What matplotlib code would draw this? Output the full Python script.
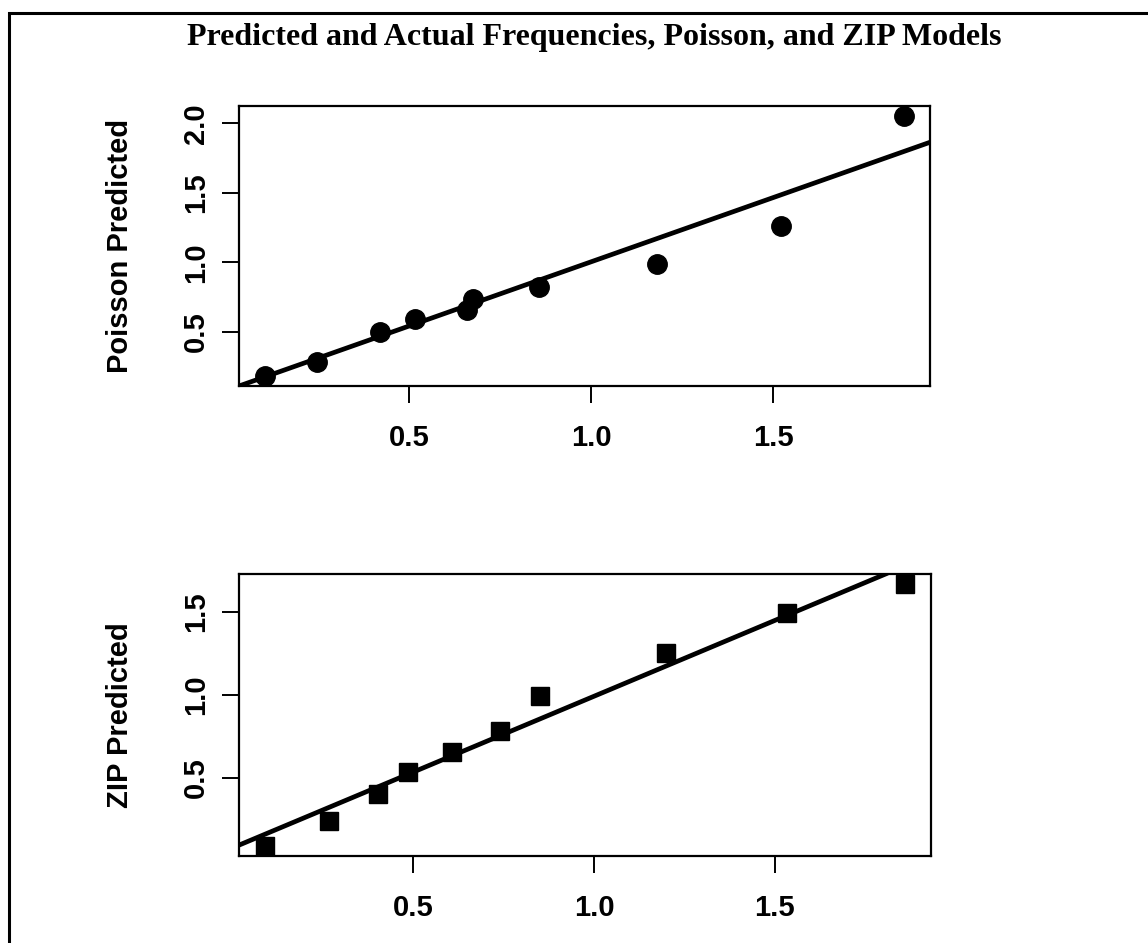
import matplotlib
matplotlib.use("Agg")
import matplotlib.pyplot as plt
from matplotlib.patches import Rectangle
import numpy as np

# actual vs predicted frequencies
pois_actual = [0.102, 0.247, 0.420, 0.514, 0.659, 0.676, 0.857, 1.181, 1.522, 1.860]
pois_pred = [0.184, 0.285, 0.500, 0.593, 0.658, 0.737, 0.823, 0.986, 1.258, 2.050]
zip_actual = [0.088, 0.265, 0.403, 0.486, 0.608, 0.741, 0.851, 1.200, 1.533, 1.862]
zip_pred = [0.090, 0.239, 0.403, 0.536, 0.652, 0.779, 0.991, 1.248, 1.490, 1.664]

# fitted lines (intercept, slope)
pois_fit = (0.080, 0.924)
zip_fit = (0.077, 0.913)

x_ticks = [0.5, 1.0, 1.5]
pois_yticks = [0.5, 1.0, 1.5, 2.0]
zip_yticks = [0.5, 1.0, 1.5]

W, H = 1148, 943
fig = plt.figure(figsize=(W / 100, H / 100), dpi=100)
fig.patch.set_facecolor("white")

# border round the whole figure
fig.add_artist(Rectangle((9 / W, -0.1), 2, 1.1 - 12.5 / H, transform=fig.transFigure,
                         fill=False, lw=2.2, edgecolor="black"))

fig.text(594 / W, 1 - 38 / H, "Predicted and Actual Frequencies, Poisson, and ZIP Models",
         ha="center", va="center", fontsize=23, fontweight="bold",
         family="Liberation Serif")


def rlim(v):
    lo, hi = min(v), max(v)
    r = hi - lo
    return lo - 0.04 * r, hi + 0.04 * r


def panel(rect, x, y, fit, yticks, marker, ms, ylabel):
    ax = fig.add_axes(rect)
    ax.plot(x, y, linestyle="none", marker=marker, markersize=ms, color="black")
    ax.axline((0, fit[0]), slope=fit[1], color="black", lw=3.4)
    ax.set_xlim(*rlim(x))
    ax.set_ylim(*rlim(y))
    ax.set_xticks(x_ticks)
    ax.set_xticklabels(["%.1f" % t for t in x_ticks])
    ax.set_yticks(yticks)
    ax.set_yticklabels(["%.1f" % t for t in yticks], rotation=90, va="center")
    for s in ax.spines.values():
        s.set_linewidth(1.6)
    ax.tick_params(length=12, width=1.4, labelsize=21)
    ax.tick_params(axis="x", pad=15)
    ax.tick_params(axis="y", pad=9)
    for lab in ax.get_xticklabels() + ax.get_yticklabels():
        lab.set_fontweight("bold")
        lab.set_family("Liberation Sans")
    ax.set_ylabel(ylabel, fontsize=21, fontweight="bold", family="Liberation Sans", va="center")
    ax.yaxis.set_label_coords(-0.172, 0.5)
    return ax


panel([239 / W, 1 - 386 / H, 691 / W, 280 / H], pois_actual, pois_pred, pois_fit,
      pois_yticks, "o", 14, "Poisson Predicted")
panel([239 / W, 1 - 856 / H, 692 / W, 282 / H], zip_actual, zip_pred, zip_fit,
      zip_yticks, "s", 13, "ZIP Predicted")

fig.savefig("out.png", dpi=100)
